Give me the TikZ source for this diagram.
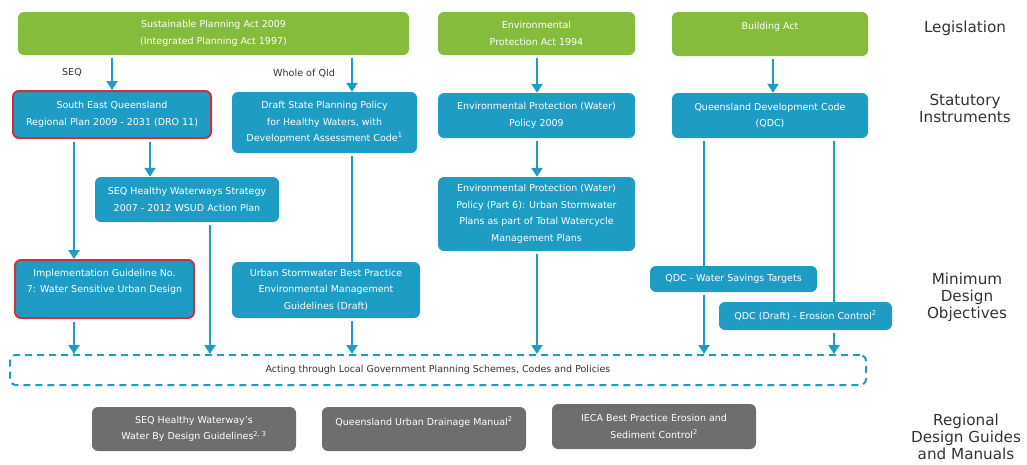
\documentclass[tikz,border=0pt]{standalone}
\usepackage{fontspec}
\setmainfont{DejaVu Sans}
\usetikzlibrary{arrows.meta}
\definecolor{cgreen}{HTML}{86BC3C}
\definecolor{cblue}{HTML}{1E9CC3}
\definecolor{cred}{HTML}{C8343C}
\definecolor{cgray}{HTML}{6E6E70}
\definecolor{ctext}{HTML}{333333}
\tikzset{
  box/.style={rounded corners=6pt, inner sep=0pt, align=center, text=white,
    font=\fontsize{9.5}{16.5}\selectfont},
  gbox/.style={box, fill=cgreen},
  bbox/.style={box, fill=cblue},
  rbox/.style={box, fill=cblue, draw=cred, line width=2pt},
  ybox/.style={box, fill=cgray},
  arr/.style={cblue, line width=2.8pt, shorten <=3pt, -{Triangle[width=11pt,length=9pt]}},
  ln/.style={cblue, line width=2.8pt, shorten <=3pt},
  lvl/.style={align=center, text=ctext, font=\fontsize{15.2}{17}\selectfont},
  lab/.style={text=ctext, font=\fontsize{9.6}{10}\selectfont},
}
\begin{document}
\begin{tikzpicture}[x=1pt,y=-1pt]
\useasboundingbox (0,0) rectangle (1027,464);
% legislation
\node[gbox, minimum width=391pt, minimum height=43pt] (spa) at (213.5,33.5) {Sustainable Planning Act 2009\\(Integrated Planning Act 1997)};
\node[gbox, minimum width=197pt, minimum height=43pt] (epa) at (536.5,33.5) {Environmental\\Protection Act 1994};
\node[gbox, minimum width=196pt, minimum height=44pt] (ba) at (770,34) {Building Act\\\mbox{}};
% statutory
\node[rbox, minimum width=198pt, minimum height=47pt] (seq) at (112,114.5) {South East Queensland\\Regional Plan 2009 - 2031 (DRO 11)};
\node[bbox, minimum width=185pt, minimum height=61pt] (spp) at (324.5,122.5) {Draft State Planning Policy\\for Healthy Waters, with\\Development Assessment Code\textsuperscript{1}};
\node[bbox, minimum width=197pt, minimum height=45pt] (epw) at (536.5,115.5) {Environmental Protection (Water)\\Policy 2009};
\node[bbox, minimum width=196pt, minimum height=45pt] (qdc) at (770,115.5) {Queensland Development Code\\(QDC)};
\node[bbox, minimum width=184pt, minimum height=45pt] (hws) at (187,199.5) {SEQ Healthy Waterways Strategy\\2007 - 2012 WSUD Action Plan};
\node[bbox, minimum width=197pt, minimum height=74pt] (ep6) at (536.5,214) {Environmental Protection (Water)\\Policy (Part 6): Urban Stormwater\\Plans as part of Total Watercycle\\Management Plans};
% minimum design objectives
\node[rbox, minimum width=179pt, minimum height=58pt] (imp) at (104.5,289) {Implementation Guideline No.\\7: Water Sensitive Urban Design\\\mbox{}};
\node[bbox, minimum width=188pt, minimum height=56pt] (usw) at (326,290) {Urban Stormwater Best Practice\\Environmental Management\\Guidelines (Draft)};
\node[bbox, minimum width=167pt, minimum height=26pt] (qws) at (733.5,279) {QDC - Water Savings Targets};
\node[bbox, minimum width=173pt, minimum height=28pt] (qer) at (805.5,316) {QDC (Draft) - Erosion Control\textsuperscript{2}};
% local government
\node[draw=cblue, line width=2pt, dash pattern=on 7pt off 5pt, rounded corners=6pt,
  minimum width=856pt, minimum height=30pt, inner sep=0pt, text=ctext,
  font=\fontsize{9.5}{10}\selectfont] (lg) at (438,370) {Acting through Local Government Planning Schemes, Codes and Policies};
% regional
\node[ybox, minimum width=204pt, minimum height=44pt] (g1) at (194,429) {SEQ Healthy Waterway's\\Water By Design Guidelines\textsuperscript{2, 3}};
\node[ybox, minimum width=204pt, minimum height=44pt] (g2) at (424,429) {Queensland Urban Drainage Manual\textsuperscript{2}\\\mbox{}};
\node[ybox, minimum width=204pt, minimum height=45pt] (g3) at (654,426.5) {IECA Best Practice Erosion and\\Sediment Control\textsuperscript{2}};
% level labels
\node[lvl] (l1) at (965,28) {Legislation};
\node[lvl] (l2) at (965,108) {Statutory\\Instruments};
\node[lvl] (l3) at (967,297) {Minimum\\Design\\Objectives};
\node[lvl] (l4) at (966,437) {Regional\\Design Guides\\and Manuals};
% connector labels
\node[lab] (tseq) at (72,73) {SEQ};
\node[lab] (tqld) at (304,73) {Whole of Qld};
% connectors
\draw[arr] (spa.south -| seq.north) -- (seq.north);
\draw[arr] (spa.south -| 352,0) -- (spp.north -| 352,0);
\draw[arr] (seq.south -| 74,0) -- (imp.north -| 74,0);
\draw[arr] (seq.south -| 150,0) -- (hws.north -| 150,0);
\draw[arr] (hws.south -| 210,0) -- (lg.north -| 210,0);
\draw[ln] (spp.south -| 352,0) -- (usw.north -| 352,0);
\draw[arr] (usw.south -| 352,0) -- (lg.north -| 352,0);
\draw[arr] (imp.south -| 74,0) -- (lg.north -| 74,0);
\draw[arr] (epa.south -| 537,0) -- (epw.north -| 537,0);
\draw[arr] (epw.south -| 537,0) -- (ep6.north -| 537,0);
\draw[arr] (ep6.south -| 537,0) -- (lg.north -| 537,0);
\draw[arr] (ba.south -| 773,0) -- (qdc.north -| 773,0);
\draw[ln] (qdc.south -| 704,0) -- (qws.north -| 704,0);
\draw[arr] (qws.south -| 704,0) -- (lg.north -| 704,0);
\draw[ln] (qdc.south -| 834,0) -- (qer.north -| 834,0);
\draw[arr] (qer.south -| 834,0) -- (lg.north -| 834,0);
\end{tikzpicture}
\end{document}
